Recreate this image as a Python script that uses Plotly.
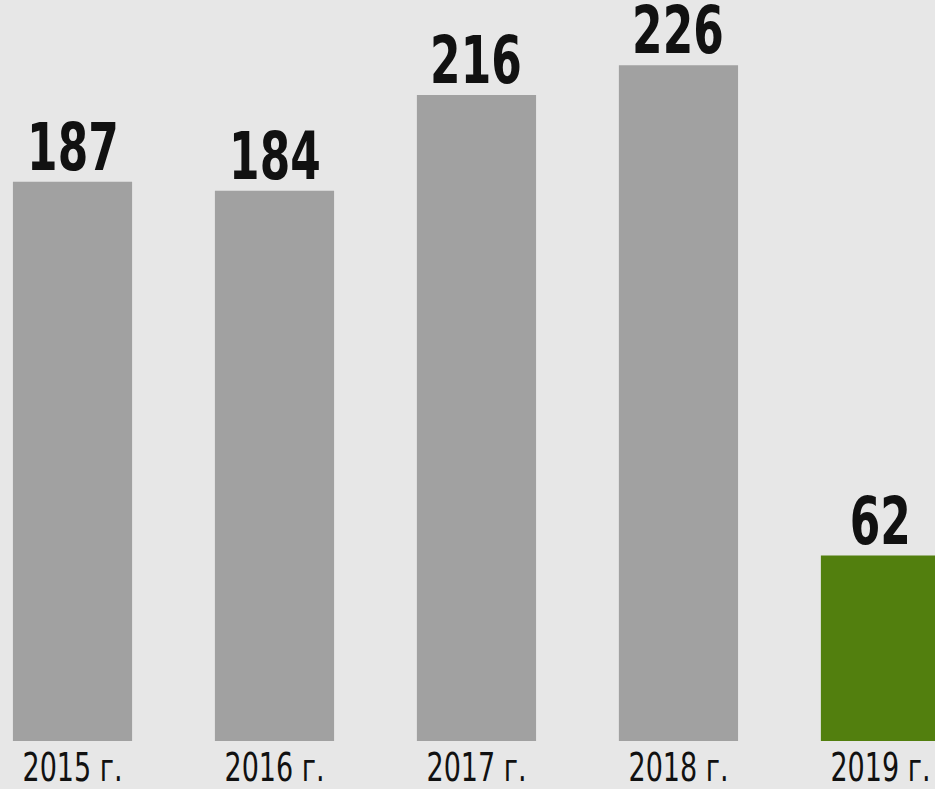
import plotly.graph_objects as go

# Yearly totals
years = ["2015 г.", "2016 г.", "2017 г.", "2018 г.", "2019 г."]
values = [187, 184, 216, 226, 62]
bar_colors = ["#a1a1a1", "#a1a1a1", "#a1a1a1", "#a1a1a1", "#527f0e"]

FONT = "DejaVu Sans Condensed, Liberation Sans Narrow, sans-serif"
BG = "#e7e7e7"
# horizontal squeeze of the text for a narrow, DIN-like look
SQUEEZE_VALUES = 0.74
SQUEEZE_TICKS = 0.77

fig = go.Figure()
fig.add_trace(go.Bar(
    x=list(range(len(years))),
    y=values,
    width=0.59,
    marker=dict(color=bar_colors, line=dict(width=0)),
    hoverinfo="skip",
))

# Value labels above each bar
for i, v in enumerate(values):
    fig.add_annotation(
        x=i, y=v, xref="x", yref="y",
        text=f"<b>{v}</b>",
        showarrow=False,
        yanchor="bottom",
        yshift=-6,
        font=dict(family=FONT, size=66, color="#111111"),
    )

fig.update_layout(
    width=935, height=789,
    margin=dict(l=0, r=0, t=0, b=48, autoexpand=False),
    paper_bgcolor=BG,
    plot_bgcolor=BG,
    showlegend=False,
    xaxis=dict(
        range=[-0.359, 4.27],
        tickmode="array",
        tickvals=list(range(len(years))),
        ticktext=years,
        showgrid=False, zeroline=False, showline=False,
        ticks="",
        automargin=False,
        ticklabeloverflow="allow",
        tickfont=dict(family=FONT, size=39, color="#111111"),
    ),
    yaxis=dict(
        range=[0, 247.8],
        visible=False,
        showgrid=False, zeroline=False,
    ),
)

# Narrow every text horizontally around its own centre
post = """
var gd = document.getElementById('{plot_id}');
function squeezeAll(sel, s) {
  gd.querySelectorAll(sel).forEach(function (t) {
    if (t.getAttribute('data-sq')) return;
    var b = t.getBBox();
    var cx = b.x + b.width / 2;
    var tr = t.getAttribute('transform') || '';
    t.setAttribute('transform', tr + ' translate(' + cx + ',0) scale(' + s + ',1) translate(' + (-cx) + ',0)');
    t.setAttribute('data-sq', '1');
  });
}
function squeeze() {
  squeezeAll('.annotation-text', %s);
  squeezeAll('.xtick text', %s);
}
squeeze();
gd.on('plotly_afterplot', squeeze);
""" % (SQUEEZE_VALUES, SQUEEZE_TICKS)

fig.write_html("out.html", post_script=post)
